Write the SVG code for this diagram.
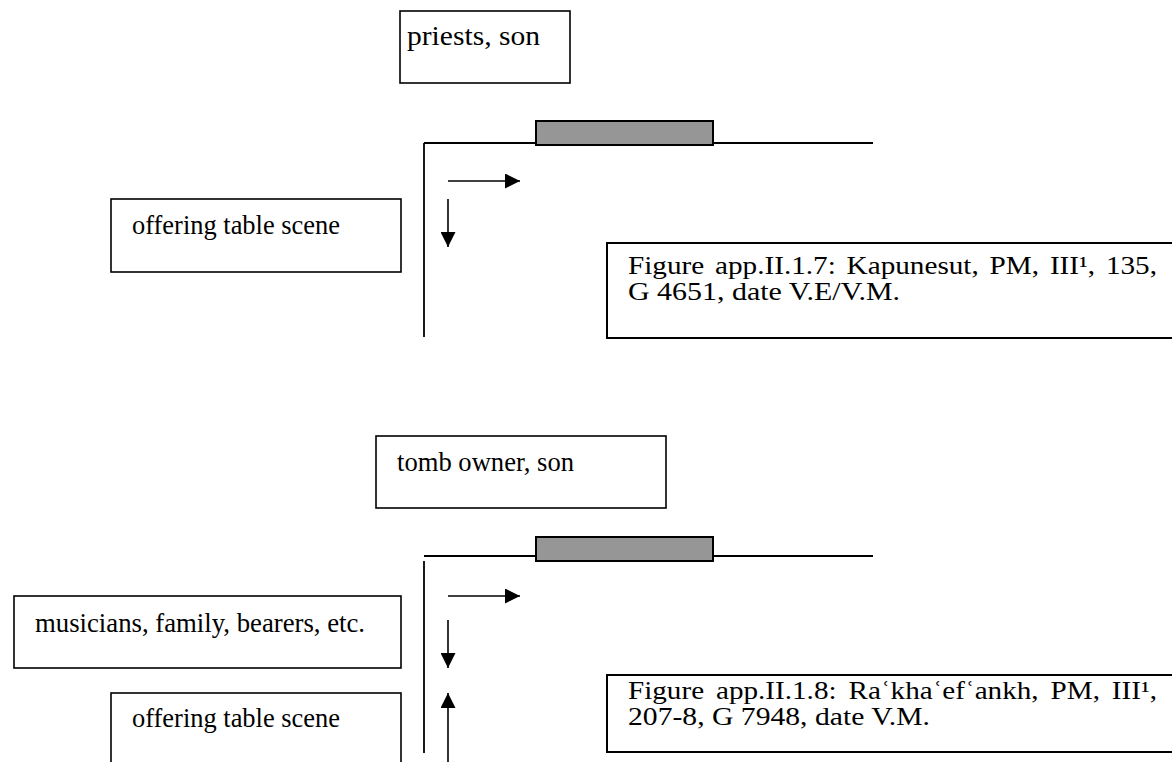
<svg xmlns="http://www.w3.org/2000/svg" width="1172" height="762" viewBox="0 0 1172 762">
  <style>
    .box { fill: #ffffff; stroke: #000000; stroke-width: 1.6; }
    .cap { fill: #ffffff; stroke: #000000; stroke-width: 2; }
    .bar { fill: #969696; stroke: #000000; stroke-width: 2; }
    .wall { fill: none; stroke: #000000; stroke-width: 1.8; }
    .arrow { fill: none; stroke: #000000; stroke-width: 1.6; marker-end: url(#head); }
    .lbl { font-family: "Liberation Serif", "Times New Roman", serif; font-size: 27px; fill: #000000; }
    .txt { font-family: "Liberation Serif", "Times New Roman", "DejaVu Serif", serif; font-size: 25px; fill: #000000; }
  </style>
  <defs>
    <marker id="head" markerUnits="userSpaceOnUse" markerWidth="15" markerHeight="15" refX="15" refY="7.5" orient="auto">
      <path d="M0,0 L15,7.5 L0,15 Z" fill="#000000"/>
    </marker>
  </defs>
  <rect width="1172" height="762" fill="#ffffff"/>

  <!-- Plan 1: Kapunesut -->
  <g id="plan1-walls">
    <line class="wall" x1="424" y1="143" x2="873" y2="143"/>
    <line class="wall" x1="424" y1="143" x2="424" y2="337"/>
    <rect class="bar" x="536" y="121" width="177" height="24"/>
  </g>
  <g id="node-priests-son">
    <rect class="box" x="400" y="11" width="170" height="72"/>
    <text class="lbl" x="407" y="45" textLength="133" lengthAdjust="spacingAndGlyphs">priests, son</text>
  </g>
  <g id="node-offering-1">
    <rect class="box" x="111" y="199" width="290" height="73"/>
    <text class="lbl" x="132" y="234" textLength="208" lengthAdjust="spacingAndGlyphs">offering table scene</text>
  </g>
  <g id="node-caption-1">
    <rect class="cap" x="607" y="243" width="580" height="95"/>
    <text class="txt" x="628" y="274" word-spacing="3" textLength="529" lengthAdjust="spacingAndGlyphs">Figure app.II.1.7: Kapunesut, PM, III¹, 135,</text>
    <text class="txt" x="628" y="300" textLength="272" lengthAdjust="spacingAndGlyphs">G 4651, date V.E/V.M.</text>
  </g>

  <!-- Plan 2: Ra'kha'ef'ankh -->
  <g id="plan2-walls">
    <line class="wall" x1="424" y1="556" x2="873" y2="556"/>
    <line class="wall" x1="424" y1="561" x2="424" y2="753"/>
    <rect class="bar" x="536" y="537" width="177" height="24"/>
  </g>
  <g id="node-tomb-owner">
    <rect class="box" x="376" y="436" width="290" height="72"/>
    <text class="lbl" x="397" y="471" textLength="177" lengthAdjust="spacingAndGlyphs">tomb owner, son</text>
  </g>
  <g id="node-musicians">
    <rect class="box" x="14" y="596" width="387" height="72"/>
    <text class="lbl" x="35" y="632" textLength="330" lengthAdjust="spacingAndGlyphs">musicians, family, bearers, etc.</text>
  </g>
  <g id="node-offering-2">
    <rect class="box" x="111" y="693" width="290" height="80"/>
    <text class="lbl" x="132" y="727" textLength="208" lengthAdjust="spacingAndGlyphs">offering table scene</text>
  </g>
  <g id="node-caption-2">
    <rect class="cap" x="607" y="675" width="580" height="77"/>
    <text class="txt" x="628" y="699" word-spacing="4" textLength="529" lengthAdjust="spacingAndGlyphs">Figure app.II.1.8: Raʿkhaʿefʿankh, PM, III¹,</text>
    <text class="txt" x="628" y="725" textLength="302" lengthAdjust="spacingAndGlyphs">207-8, G 7948, date V.M.</text>
  </g>

  <!-- direction arrows -->
  <g id="connectors">
    <line class="arrow" x1="448" y1="181" x2="520" y2="181"/>
    <line class="arrow" x1="448" y1="199" x2="448" y2="247"/>
    <line class="arrow" x1="448" y1="596" x2="520" y2="596"/>
    <line class="arrow" x1="448" y1="620" x2="448" y2="668"/>
    <line class="arrow" x1="448" y1="770" x2="448" y2="693"/>
  </g>
</svg>
